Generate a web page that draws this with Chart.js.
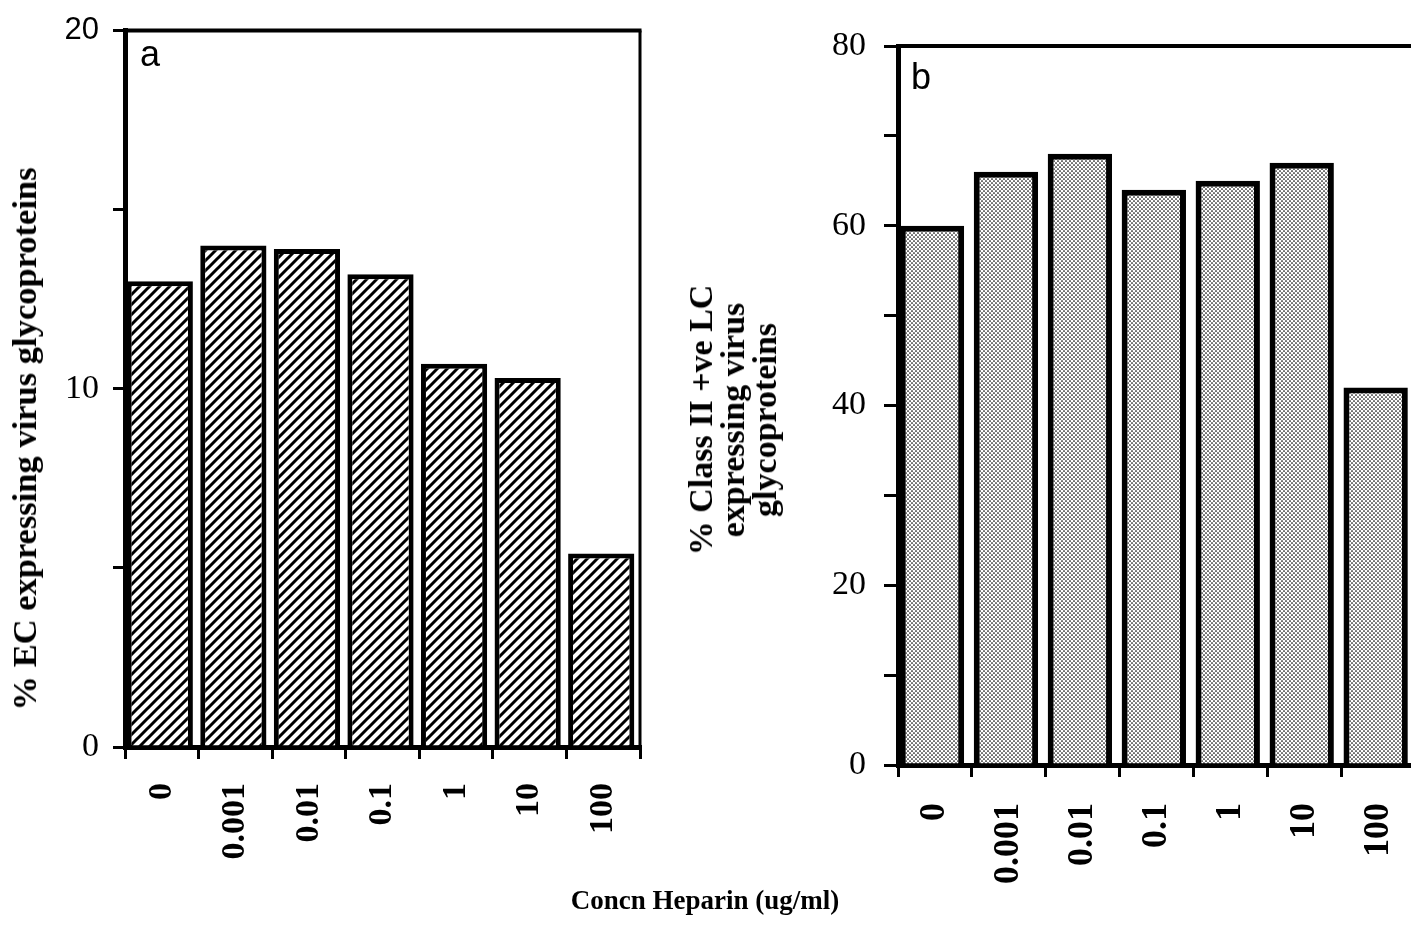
<!DOCTYPE html>
<html>
<head>
<meta charset="utf-8">
<script src="https://cdn.jsdelivr.net/npm/chart.js@4"></script>
<style>
  html, body { margin: 0; padding: 0; background: #fff; overflow: hidden; width: 1411px; height: 928px; }
  #wrap { position: relative; width: 1411px; height: 928px; overflow: hidden; }
  canvas { position: absolute; top: 0; }
  #chartA { left: 0; top: -2px; }
  #chartB { left: 660px; }
  .serif { font-family: "Liberation Serif", "Times New Roman", serif; font-weight: bold; color: #000; white-space: nowrap; position: absolute; }
  .ytitle { text-align: center; transform: translate(-50%, -50%) rotate(-90deg); }
</style>
</head>
<body>
<div id="wrap">
  <canvas id="chartA" width="700" height="930"></canvas>
  <canvas id="chartB" width="790" height="928"></canvas>
  <div class="serif ytitle" style="left:24px; top:439px; font-size:34.5px; line-height:34px;">% EC expressing virus glycoproteins</div>
  <div class="serif ytitle" style="left:733px; top:420px; font-size:34px; line-height:32px;">% Class II +ve LC<br>expressing virus<br>glycoproteins</div>
  <div class="serif" style="left:705px; top:887px; font-size:27px; line-height:27px; transform:translateX(-50%);">Concn Heparin (ug/ml)</div>
</div>
<script>
// Heparin concentrations (ug/ml) on the category axis
const concn = ['0', '0.001', '0.01', '0.1', '1', '10', '100'];
// a: % endothelial cells expressing virus glycoproteins
const ecPct = [13.0, 14.0, 13.9, 13.2, 10.7, 10.3, 5.4];
// b: % class II positive LC expressing virus glycoproteins
const lcPct = [60, 66, 68, 64, 65, 67, 42];
// labelled y ticks for each panel
const ticksA = [0, 10, 20];
const ticksB = [0, 20, 40, 60, 80];

function hatchPattern() {
  const s = 10, c = document.createElement('canvas');
  c.width = s; c.height = s;
  const g = c.getContext('2d');
  g.fillStyle = '#fff'; g.fillRect(0, 0, s, s);
  g.strokeStyle = '#000'; g.lineWidth = 3;
  g.beginPath();
  g.moveTo(-s / 2, s / 2); g.lineTo(s / 2, -s / 2);
  g.moveTo(0, s); g.lineTo(s, 0);
  g.moveTo(s / 2, s * 1.5); g.lineTo(s * 1.5, s / 2);
  g.stroke();
  return g.createPattern(c, 'repeat');
}

function dotPattern() {
  const s = 4, c = document.createElement('canvas');
  c.width = s; c.height = s;
  const g = c.getContext('2d');
  g.fillStyle = '#fff'; g.fillRect(0, 0, s, s);
  g.fillStyle = '#000';
  [[1, 1], [3, 3]].forEach(([x, y]) => { g.beginPath(); g.arc(x, y, 0.85, 0, Math.PI * 2); g.fill(); });
  return g.createPattern(c, 'repeat');
}

// bars sit slightly left of their category centres, as in the printed figure
const nudgePlugin = {
  id: 'nudge',
  beforeDatasetsDraw(chart, args, o) { chart.ctx.save(); chart.ctx.translate(o.dx || 0, 0); },
  afterDatasetsDraw(chart) { chart.ctx.restore(); }
};

// draws the top and right frame lines plus the panel letter
const framePlugin = {
  id: 'frame',
  afterDatasetsDraw(chart, args, o) {
    const { ctx, chartArea: { left, top, right, bottom } } = chart;
    ctx.save();
    ctx.strokeStyle = '#000';
    ctx.lineWidth = o.topWidth;
    ctx.beginPath(); ctx.moveTo(left, top); ctx.lineTo(right + o.rightWidth / 2, top); ctx.stroke();
    ctx.lineWidth = o.rightWidth;
    ctx.beginPath(); ctx.moveTo(right, top); ctx.lineTo(right, bottom); ctx.stroke();
    ctx.fillStyle = '#000';
    ctx.font = '36px "Liberation Sans", Arial, sans-serif';
    ctx.textBaseline = 'alphabetic';
    ctx.fillText(o.letter, left + o.letterDx, top + o.letterDy);
    ctx.restore();
  }
};

function makePanel(canvasId, values, fill, cfg) {
  return new Chart(document.getElementById(canvasId), {
    type: 'bar',
    data: {
      labels: concn,
      datasets: [{
        data: values,
        backgroundColor: fill,
        borderColor: '#000',
        borderWidth: cfg.barBorder,
        barPercentage: cfg.barPct,
        categoryPercentage: 1.0
      }]
    },
    options: {
      responsive: false,
      animation: false,
      devicePixelRatio: 1,
      layout: { padding: cfg.padding },
      plugins: {
        legend: { display: false },
        tooltip: { enabled: false },
        nudge: { dx: cfg.barShift },
        frame: cfg.frame
      },
      scales: {
        x: {
          offset: true,
          afterFit: s => { s.height = cfg.xHeight; },
          border: { display: true, color: '#000', width: 5 },
          grid: { offset: true, drawOnChartArea: false, drawTicks: true, tickLength: 12, color: '#000', lineWidth: 3 },
          ticks: {
            color: '#000',
            minRotation: 90, maxRotation: 90,
            padding: cfg.xPad,
            autoSkip: false,
            font: { family: '"Liberation Serif", "Times New Roman", serif', weight: 'bold', size: cfg.xFontSize }
          }
        },
        y: {
          min: 0, max: cfg.yMax,
          afterFit: s => { s.width = cfg.yWidth; },
          border: { display: true, color: '#000', width: 5 },
          grid: { drawOnChartArea: false, drawTicks: true, tickLength: cfg.yTickLen, color: '#000', lineWidth: 3 },
          ticks: {
            stepSize: cfg.yStep,
            color: '#000',
            padding: cfg.yPad,
            callback: v => (cfg.labelled.includes(v) ? String(v) : ''),
            font: cfg.yFont
          }
        }
      }
    },
    plugins: [nudgePlugin, framePlugin]
  });
}

const serifTick = { family: '"Liberation Serif", "Times New Roman", serif', size: 34 };
const sansTick = { family: '"Liberation Sans", Arial, sans-serif', size: 31 };

makePanel('chartA', ecPct, hatchPattern(), {
  padding: { top: 27, right: 60, left: 0, bottom: 0 },
  xHeight: 930 - 749,
  yWidth: 125,
  yMax: 20, yStep: 5, labelled: ticksA,
  yTickLen: 12, yPad: 14,
  yFont: c => (c.tick && c.tick.value === 20 ? sansTick : serifTick),
  xFontSize: 34, xPad: 24,
  barBorder: 5, barPct: 0.9, barShift: -2,
  frame: { topWidth: 4, rightWidth: 3, letter: 'a', letterDx: 15, letterDy: 35 }
});

makePanel('chartB', lcPct, dotPattern(), {
  padding: { top: 46, right: 30, left: 0, bottom: 0 },
  xHeight: 928 - 765,
  yWidth: 238,
  yMax: 80, yStep: 10, labelled: ticksB,
  yTickLen: 14, yPad: 18,
  yFont: serifTick,
  xFontSize: 36, xPad: 26,
  barBorder: 6, barPct: 0.87, barShift: -3,
  frame: { topWidth: 4, rightWidth: 3, letter: 'b', letterDx: 13, letterDy: 43 }
});
</script>
</body>
</html>
